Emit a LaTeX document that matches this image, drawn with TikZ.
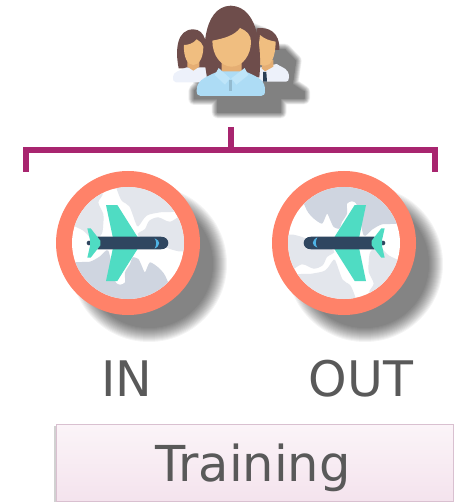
\documentclass[tikz,border=0pt]{standalone}
\usepackage{fontspec}
\setmainfont{DejaVu Sans}
\definecolor{bracketc}{HTML}{A8256F}
\definecolor{ringc}{HTML}{FF8269}
\definecolor{mapl}{HTML}{E3E6EC}
\definecolor{mapd}{HTML}{CFD5E0}
\definecolor{wingc}{HTML}{4FDCC3}
\definecolor{bodyc}{HTML}{2F4660}
\definecolor{cresc}{HTML}{4FB4E6}
\definecolor{hairc}{HTML}{6E4D4B}
\definecolor{skinc}{HTML}{F0BE80}
\definecolor{neckc}{HTML}{E5AE73}
\definecolor{shirtb}{HTML}{ADDCF5}
\definecolor{collarb}{HTML}{BEE5F9}
\definecolor{shirtl}{HTML}{EDF1FA}
\definecolor{textc}{HTML}{595959}
\definecolor{boxtop}{HTML}{FBF4F8}
\definecolor{boxbot}{HTML}{F4E3ED}
\definecolor{boxline}{HTML}{D9C0D0}
\tikzset{
  bracketline/.style={draw=bracketc,line width=6pt,line cap=butt,line join=miter},
  labeltext/.style={text=textc,font=\fontsize{49}{49}\selectfont,anchor=base,inner sep=0pt},
  trainbox/.style={draw=boxline,line width=1.4pt,top color=boxtop,bottom color=boxbot,minimum width=397pt,minimum height=77pt,inner sep=0pt,anchor=north west},
}
\newcommand{\planedisc}[3]{%
  \foreach \w in {0,...,14}{
    \fill[black,opacity=0.045] (#1+21,#2+21) circle[radius={64+\w}];
  }
  \fill[ringc] (#1,#2) circle[radius=72];
  \begin{scope}[shift={(#1,#2)},rotate=#3]
  \begin{scope}[scale=1/3,shift={(-264,-247)}]
    \fill[white] (264,247) circle[radius=168];
    \begin{scope}
      \clip (264,247) circle[radius=168];
      \begin{scope}[shift={(90,75)}]
      \fill[mapl] plot[smooth cycle,tension=0.5] coordinates {(98,22)(85,50)(100,85)(100,112)(95,145)(70,162)(40,135)(0,110)(-20,40)(60,-10)};
      \fill[mapl] plot[smooth cycle,tension=0.5] coordinates {(130,-20)(140,10)(155,45)(178,62)(197,112)(205,122)(230,90)(270,80)(325,70)(300,-20)};
      \fill[mapl] plot[smooth cycle,tension=0.5] coordinates {(205,150)(225,130)(238,105)(265,95)(300,108)(345,88)(370,150)(345,195)(300,190)};
      \fill[mapd] plot[smooth cycle,tension=0.4] coordinates {(-10,240)(60,228)(90,212)(115,195)(135,285)(150,297)(165,290)(165,260)(180,235)(188,215)(205,220)(215,240)(225,260)(240,230)(270,250)(290,280)(310,370)(50,370)};
      \end{scope}
      \fill[bodyc] (147,247) circle[radius=7];
      \fill[wingc] (198,133)--(232,133)--(292,228)--(292,266)--(232,361)--(198,361)--(218,266)--(218,228)--cycle;
      \fill[bodyc] (172,228) -- (362,228) .. controls (378,228) and (385,238) .. (385,247) .. controls (385,256) and (378,266) .. (362,266) -- (172,266) -- cycle;
      \fill[wingc] (142,203)--(152,203)--(181,240)--(181,254)--(152,291)--(142,291)--(150,256)--(150,238)--cycle;
      \fill[cresc] (344,233) .. controls (362,240) and (362,254) .. (344,264) .. controls (350,252) and (350,243) .. (344,233) -- cycle;
    \end{scope}
  \end{scope}
  \end{scope}
}
\begin{document}
\begin{tikzpicture}[x=1pt,y=-1pt]
\useasboundingbox (0,0) rectangle (462,502);
% people icon, in 3x view coordinates
\begin{scope}[shift={(150,0)},scale=1/3]
  \foreach \w in {0,...,12}{
    \begin{scope}[transparency group,opacity=0.052]
    \path[fill=black,draw=black,line join=round,line width={(12-\w)*1pt},shift={(55,57)}]
      (78,240)--(78,215)--(93,200)--(88,130)--(105,100)--(130,95)--(165,95)--(195,38)--(240,25)--(285,42)--(315,92)--(350,92)--(382,125)--(372,195)--(407,218)--(407,238)--(337,238)--(337,280)--(148,280)--(148,240)--cycle;
    \end{scope}
  }
  % left woman
  \fill[hairc] (86,205) .. controls (75,150) and (80,88) .. (130,88) .. controls (165,88) and (175,130) .. (175,205) -- cycle;
  \fill[shirtl] (78,247) .. controls (70,247) and (69,240) .. (69,230) .. controls (69,215) and (90,212) .. (110,202) -- (170,202) -- (170,247) -- cycle;
  \fill[neckc] (112,180)--(148,180)--(148,200)--(130,212)--(112,200)--cycle;
  \fill[skinc] (130,195) .. controls (112,195) and (100,170) .. (102,135) .. controls (115,135) and (130,130) .. (140,118) .. controls (150,125) and (158,130) .. (160,140) .. controls (160,172) and (148,195) .. (130,195) -- cycle;
  % right man
  \fill[hairc] (320,150) -- (320,85) .. controls (355,80) and (390,95) .. (388,150) -- cycle;
  \fill[shirtl] (320,245) -- (320,205) -- (380,192) .. controls (400,205) and (417,205) .. (417,232) .. controls (417,240) and (414,245) .. (408,245) -- cycle;
  \fill[neckc] (340,180)--(370,180)--(370,200)--(345,214)--(335,205)--cycle;
  \fill[skinc] (345,197) .. controls (362,197) and (376,175) .. (377,125) .. controls (360,122) and (345,118) .. (330,105) -- (320,190) .. controls (328,195) and (336,197) .. (345,197) -- cycle;
  \fill[bodyc!90!black] (339,216)--(349,216)--(351,245)--(339,245)--cycle;
  % centre woman
  \fill[hairc] (172,232) .. controls (155,170) and (155,20) .. (242,17) .. controls (330,20) and (335,160) .. (328,232) -- cycle;
  \fill[neckc] (215,180)--(275,180)--(275,212)--(245,238)--(215,212)--cycle;
  \fill[skinc] (245,200) .. controls (212,200) and (187,165) .. (187,122) .. controls (225,115) and (255,105) .. (270,84) .. controls (290,92) and (303,105) .. (303,125) .. controls (303,165) and (278,200) .. (245,200) -- cycle;
  \fill[shirtb] (152,288) .. controls (143,288) and (140,282) .. (140,272) .. controls (140,245) and (155,235) .. (205,214) -- (285,214) .. controls (335,235) and (345,245) .. (345,272) .. controls (345,282) and (342,288) .. (333,288) -- cycle;
  \fill[collarb] (206,204)--(240,235)--(225,254)--(194,225)--cycle;
  \fill[collarb] (284,204)--(244,235)--(259,254)--(295,225)--cycle;
  \fill[shirtb!85!black] (237,240)--(247,240)--(247,272)--(237,272)--cycle;
\end{scope}
% bracket
\coordinate (stemtop) at (231,127);
\coordinate (stemfoot) at (231,150);
\coordinate (leftend) at (26,172);
\coordinate (rightend) at (435,172);
\draw[bracketline] (leftend) |- (stemfoot) -| (rightend);
\draw[bracketline] (stemtop) -- (stemfoot);
% discs
\planedisc{128}{243}{0}
\planedisc{344}{243}{180}
% labels
\node[labeltext] (inlabel) at (127,396) {IN};
\node[labeltext] (outlabel) at (361,396) {OUT};
\fill[black,opacity=0.18] (53.5,426) rectangle (56,502);
\node[trainbox] (trainingbox) at (56,424) {};
\node[labeltext,font=\fontsize{49.5}{49.5}\selectfont] (trainlabel) at (253,481) {Training};
\end{tikzpicture}
\end{document}
